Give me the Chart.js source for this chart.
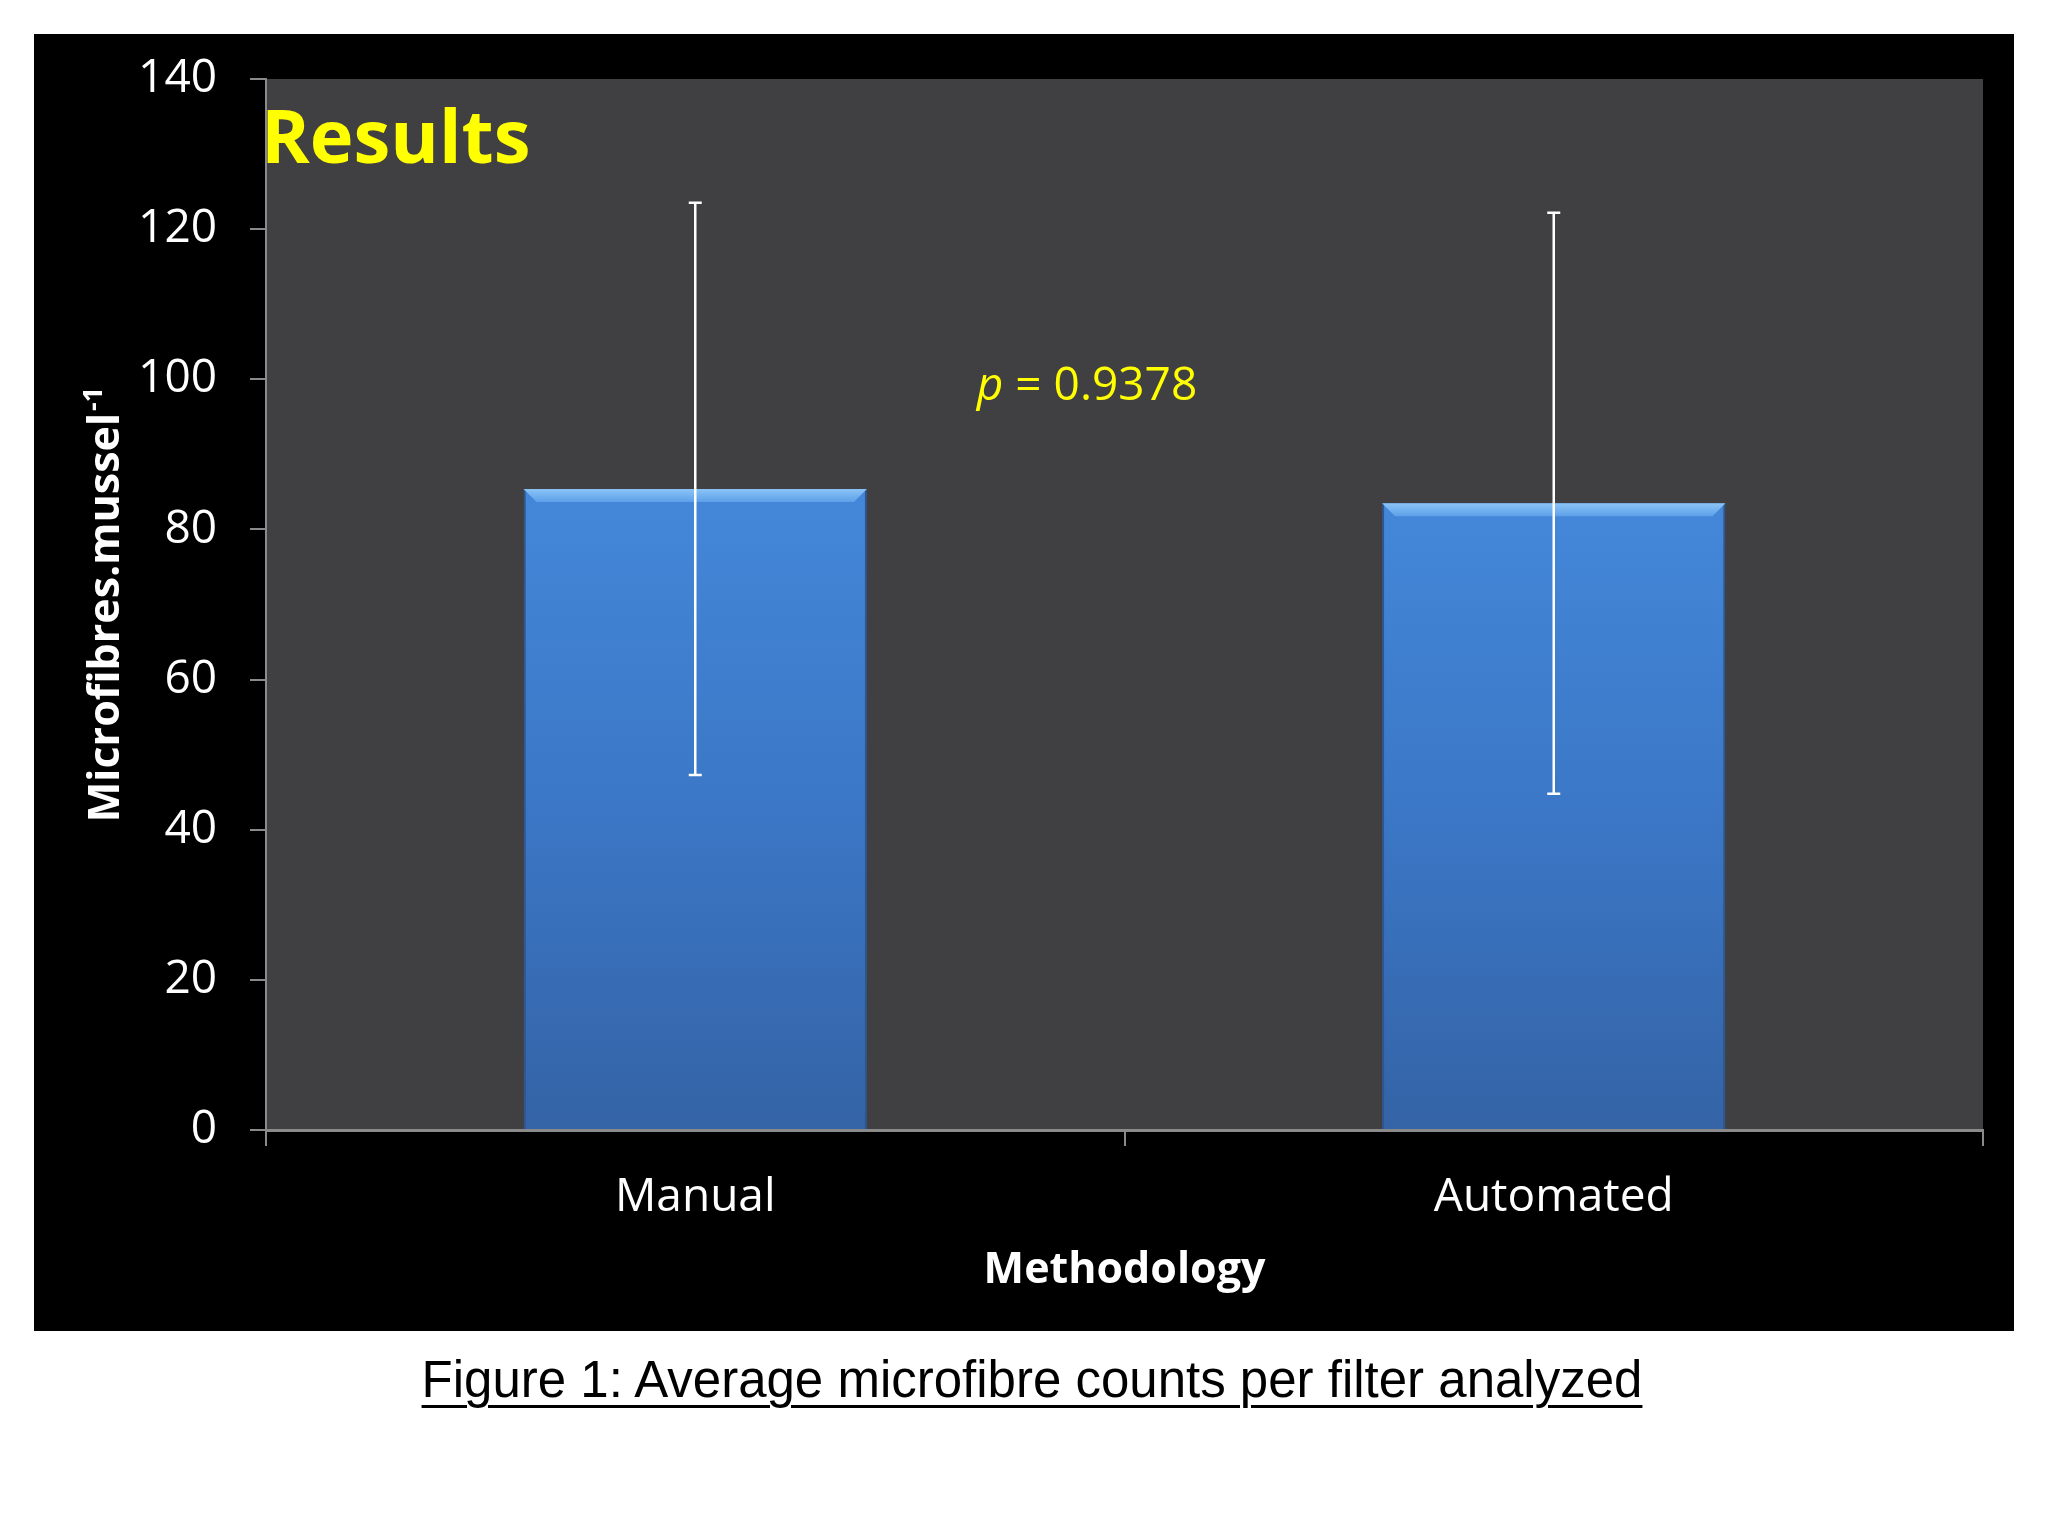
<!DOCTYPE html>
<html>
<head>
<meta charset="utf-8">
<title>Average microfibre counts per filter analyzed</title>
<script src="https://cdn.jsdelivr.net/npm/chart.js@4.4.0/dist/chart.umd.min.js"></script>
<style>
  html, body { margin: 0; padding: 0; background: #fff; }
  body { width: 2048px; height: 1536px; position: relative; overflow: hidden; }
  #frame { position: absolute; left: 34px; top: 34px; width: 1980px; height: 1297px; background: #000; }
  #chart { display: block; }
  #caption {
    position: absolute; left: 0; width: 2064px; top: 1355px;
    text-align: center; font-family: "Liberation Sans", Arial, sans-serif;
    font-size: 51px; line-height: 50px; color: #000;
    text-decoration: underline; text-decoration-thickness: 3px; text-underline-offset: 8px;
  }
</style>
</head>
<body>
<div id="frame"><canvas id="chart" width="1980" height="1297"></canvas></div>
<div id="caption">Figure 1: Average microfibre counts per filter analyzed</div>
<script>
// Datos
const categories = ['Manual', 'Automated'];
const means = [85.4, 83.5];
const errors = [38.1, 38.7];
const yMin = 0;
const yMax = 140;
const yStep = 20;

const yTitle = 'Microfibres.mussel';
const yTitleSup = '-1';
const xTitle = 'Methodology';
const bigLabel = 'Results';
const pLabel = ['p', ' = 0.9378'];

const FONT = '"Open Sans", "Noto Sans", sans-serif';
const axisGray = '#8a8a8a';
const yellow = '#ffff00';

// Fondo del área del gráfico
const plotBg = {
  id: 'plotBg',
  beforeDraw(chart) {
    const { ctx, chartArea: a } = chart;
    ctx.save();
    ctx.fillStyle = '#403f42';
    ctx.fillRect(a.left, a.top, a.right - a.left, a.bottom - a.top);
    ctx.restore();
  }
};

// Bisel superior y barras de error
const barExtras = {
  id: 'barExtras',
  afterDatasetsDraw(chart) {
    const { ctx } = chart;
    const meta = chart.getDatasetMeta(0);
    const y = chart.scales.y;
    meta.data.forEach((bar, i) => {
      const left = bar.x - bar.width / 2;
      const right = bar.x + bar.width / 2;
      const top = bar.y;
      ctx.save();
      const g = ctx.createLinearGradient(0, top, 0, top + 13);
      g.addColorStop(0, '#8cc4f6');
      g.addColorStop(1, '#5da1ea');
      ctx.fillStyle = g;
      ctx.beginPath();
      ctx.moveTo(left, top);
      ctx.lineTo(right, top);
      ctx.lineTo(right - 13, top + 13);
      ctx.lineTo(left + 13, top + 13);
      ctx.closePath();
      ctx.fill();
      ctx.restore();

      // barra de error
      const yHi = y.getPixelForValue(means[i] + errors[i]);
      const yLo = y.getPixelForValue(means[i] - errors[i]);
      ctx.save();
      ctx.strokeStyle = '#ffffff';
      ctx.lineWidth = 2.5;
      ctx.beginPath();
      ctx.moveTo(bar.x, yHi);
      ctx.lineTo(bar.x, yLo);
      ctx.moveTo(bar.x - 6.5, yHi);
      ctx.lineTo(bar.x + 6.5, yHi);
      ctx.moveTo(bar.x - 6.5, yLo);
      ctx.lineTo(bar.x + 6.5, yLo);
      ctx.stroke();
      ctx.restore();
    });
  }
};

// Textos: título eje Y con superíndice, "Results" y valor p
const texts = {
  id: 'texts',
  afterDraw(chart) {
    const { ctx, chartArea: a } = chart;
    const y = chart.scales.y;

    // título eje Y
    ctx.save();
    ctx.fillStyle = '#ffffff';
    const mainFont = 'bold 43px ' + FONT;
    const supFont = 'bold 27px ' + FONT;
    ctx.font = mainFont;
    const wMain = ctx.measureText(yTitle).width;
    ctx.font = supFont;
    const wSup = ctx.measureText(yTitleSup).width;
    const total = wMain + wSup + 2;
    ctx.translate(85, (a.top + a.bottom) / 2);
    ctx.rotate(-Math.PI / 2);
    ctx.textBaseline = 'alphabetic';
    ctx.textAlign = 'left';
    ctx.font = mainFont;
    ctx.fillText(yTitle, -total / 2, 0);
    ctx.font = supFont;
    ctx.fillText(yTitleSup, -total / 2 + wMain + 2, -17);
    ctx.restore();

    // "Results"
    ctx.save();
    ctx.fillStyle = yellow;
    ctx.font = 'bold 74px ' + FONT;
    ctx.textBaseline = 'alphabetic';
    ctx.textAlign = 'left';
    ctx.fillText(bigLabel, a.left - 5, 129);
    ctx.restore();

    // valor p
    ctx.save();
    ctx.fillStyle = yellow;
    ctx.textBaseline = 'alphabetic';
    ctx.textAlign = 'left';
    const px = a.left + 0.414 * (a.right - a.left);
    const py = y.getPixelForValue(97.2);
    ctx.font = 'italic 46px ' + FONT;
    ctx.fillText(pLabel[0], px, py);
    const wp = ctx.measureText(pLabel[0]).width;
    ctx.font = '46px ' + FONT;
    ctx.fillText(pLabel[1], px + wp, py);
    ctx.restore();
  }
};

function barGradient(context) {
  const chart = context.chart;
  const area = chart.chartArea;
  if (!area) return '#3d78c8';
  const yScale = chart.scales.y;
  const top = yScale.getPixelForValue(means[context.dataIndex]);
  const g = chart.ctx.createLinearGradient(0, top, 0, area.bottom);
  g.addColorStop(0, '#4487d9');
  g.addColorStop(0.5, '#3b77c6');
  g.addColorStop(1, '#3463a6');
  return g;
}

new Chart(document.getElementById('chart'), {
  type: 'bar',
  data: {
    labels: categories,
    datasets: [{
      data: means,
      backgroundColor: barGradient,
      borderColor: '#2d5790',
      borderWidth: { left: 2, right: 2, top: 0, bottom: 0 },
      borderSkipped: false,
      barPercentage: 0.4,
      categoryPercentage: 1.0
    }]
  },
  options: {
    responsive: false,
    devicePixelRatio: 1,
    animation: false,
    layout: { padding: { top: 45, right: 31, bottom: 0, left: 0 } },
    plugins: {
      legend: { display: false },
      tooltip: { enabled: false }
    },
    scales: {
      x: {
        grid: { display: true, drawOnChartArea: false, drawTicks: true, tickLength: 16, color: axisGray, lineWidth: 2, offset: true },
        border: { display: true, color: axisGray, width: 3 },
        ticks: { color: '#ffffff', font: { family: FONT, size: 46 }, padding: 24 },
        title: {
          display: true, text: xTitle, color: '#ffffff',
          font: { family: FONT, size: 43, weight: 'bold' },
          padding: { top: 0, bottom: 34 }
        },
        afterFit(scale) {
          scale.height = 201;
          scale.paddingLeft = 0;
          scale.paddingRight = 0;
        }
      },
      y: {
        min: yMin,
        max: yMax,
        ticks: { stepSize: yStep, color: '#ffffff', font: { family: FONT, size: 46 }, padding: 33 },
        grid: { drawOnChartArea: false, drawTicks: true, tickLength: 16, color: axisGray, lineWidth: 2 },
        border: { display: true, color: axisGray, width: 2 },
        afterFit(scale) {
          scale.width = 232;
          scale.paddingTop = 0;
          scale.paddingBottom = 0;
        }
      }
    }
  },
  plugins: [plotBg, barExtras, texts]
});
</script>
</body>
</html>
